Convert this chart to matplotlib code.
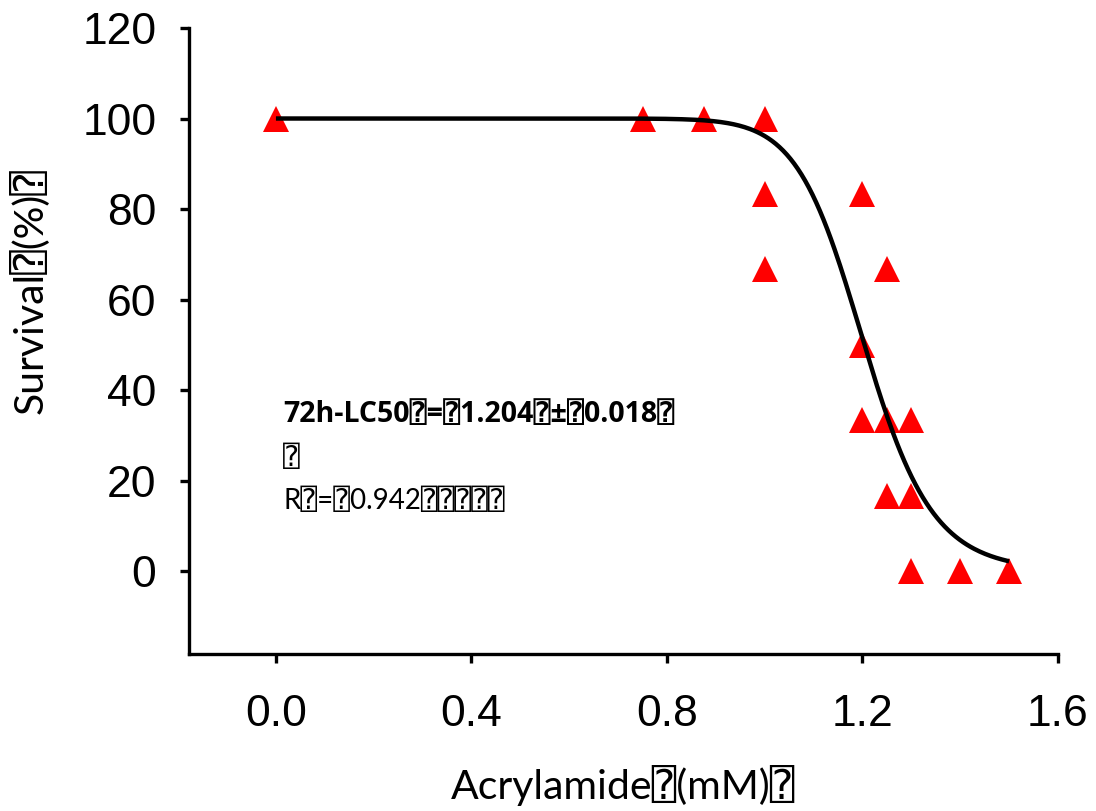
import numpy as np
import matplotlib
matplotlib.use("Agg")
import matplotlib.pyplot as plt

# measured survival data
dose = [0.0, 0.75, 0.875, 1.0, 1.0, 1.0, 1.2, 1.2, 1.2, 1.25, 1.25, 1.25,
        1.3, 1.3, 1.3, 1.4, 1.5]
survival = [100, 100, 100, 100, 83.3, 66.7, 83.3, 50, 33.3, 66.7, 33.3, 16.7,
            33.3, 16.7, 0, 0, 0]

# fitted dose-response curve (Hill), LC50 from annotation
lc50 = 1.204
hill = 17.3
fit_range = [0.0, 1.5]

xticks = [0.0, 0.4, 0.8, 1.2, 1.6]
yticks = [0, 20, 40, 60, 80, 100, 120]

box = "\u2370"
fam = ["Lato", "DejaVu Sans", "DejaVu Sans Mono"]
fam_bold = ["Open Sans", "DejaVu Sans", "DejaVu Sans Mono"]

fig = plt.figure(figsize=(10.96, 8.11), dpi=100)
ax = fig.add_axes([0.1724, 0.1936, 0.9653 - 0.1724, 0.9655 - 0.1936])

xf = np.linspace(fit_range[0], fit_range[1], 400)
yf = 100 / (1 + (xf / lc50) ** hill)
ax.plot(xf, yf, color="black", lw=3.2, zorder=3, solid_capstyle="butt")
ax.plot(dose, survival, linestyle="none", marker="^", color="#ff0000",
        markersize=19, markeredgewidth=0, zorder=2)

ax.set_xlim(-0.178, 1.6)
ax.set_ylim(-18.3, 120)
ax.set_xticks(xticks)
ax.set_xticklabels([f"{t:.1f}" for t in xticks])
ax.set_yticks(yticks)

for s in ["top", "right"]:
    ax.spines[s].set_visible(False)
for s in ["left", "bottom"]:
    ax.spines[s].set_linewidth(2.4)
ax.tick_params(direction="out", length=6.5, width=2.4, labelsize=32)
ax.tick_params(axis="x", pad=22)
ax.tick_params(axis="y", pad=17)
for lab in ax.get_xticklabels() + ax.get_yticklabels():
    lab.set_family("Liberation Sans")

ax.set_xlabel("Acrylamide" + box + "(mM)" + box, fontsize=29.5, family=fam,
              labelpad=22)
ax.set_ylabel("Survival" + box + "(%)" + box, fontsize=29.5, family=fam)
ax.yaxis.set_label_coords(-0.162, 0.58)

ax.text(0.015, 34.5, "72h-LC50" + box + "=" + box + "1.204" + box + "\u00b1" + box
        + "0.018" + box, fontsize=20.5, fontweight="bold", family=fam_bold,
        va="center")
ax.text(0.015, 25, box, fontsize=20, family=fam, va="center")
ax.text(0.015, 15.5, "R" + box + "=" + box + "0.942" + box * 5, fontsize=20,
        family=fam, va="center")

fig.savefig("out.png", dpi=100)
